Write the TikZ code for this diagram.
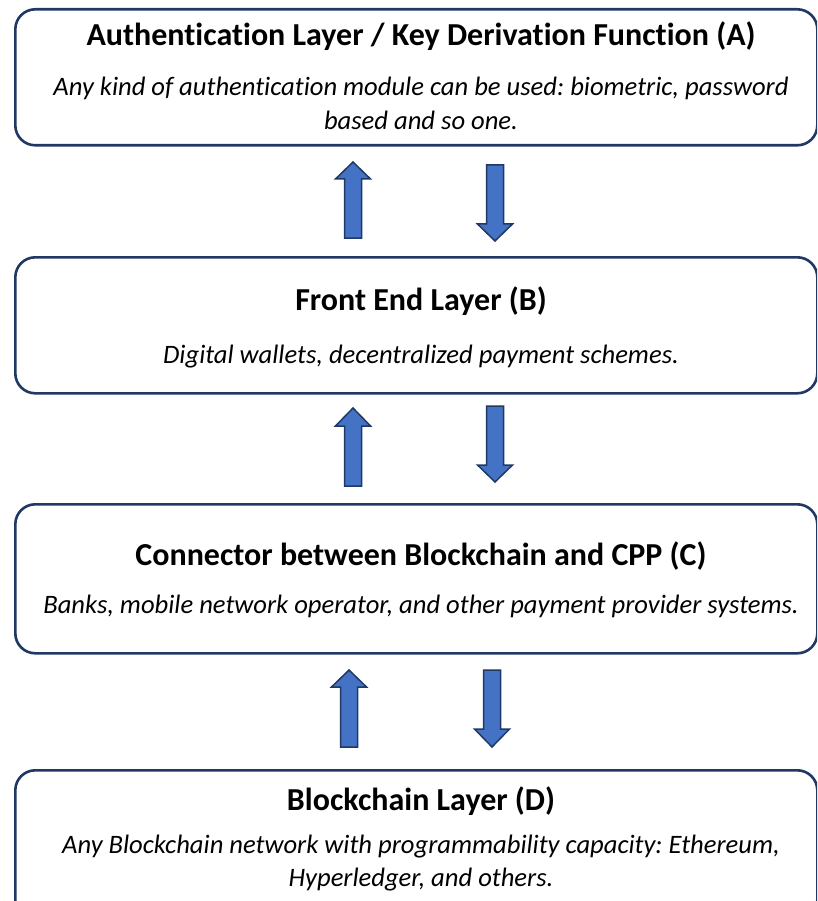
\documentclass[tikz,border=0pt]{standalone}
\usepackage{fontspec}
\setmainfont{Carlito}[Ligatures=NoCommon]
\frenchspacing
\definecolor{boxline}{HTML}{1F3864}
\definecolor{arrowfill}{HTML}{4472C4}
\definecolor{arrowline}{HTML}{203864}
% block arrow: centre x, tail y, head base y, tip y
\newcommand{\blockarrow}[4]{%
  \filldraw[fatarrow] ({#1-8.5},#2) -- ({#1-8.5},#3) -- ({#1-17.5},#3) -- (#1,#4)
    -- ({#1+17.5},#3) -- ({#1+8.5},#3) -- ({#1+8.5},#2) -- cycle;}
\begin{document}
\begin{tikzpicture}[x=1pt,y=-1pt,
  layerbox/.style={draw=boxline, line width=2.6pt, rounded corners=20pt, fill=white,
    anchor=north west, minimum width=802pt, inner sep=0pt},
  titletext/.style={anchor=base, inner sep=0pt, font=\fontsize{32}{36}\selectfont\bfseries},
  subtext/.style={anchor=base, inner sep=0pt, font=\fontsize{26.6}{30}\selectfont\itshape},
  fatarrow/.style={fill=arrowfill, draw=arrowline, line width=1.5pt, line join=miter}]
\useasboundingbox (0,0) rectangle (817,901);
\begin{scope}
\clip (0,0) rectangle (817,901);

% layer boxes
\node[layerbox, minimum height=136pt] (boxA) at (14,8) {};
\node[layerbox, minimum height=136pt] (boxB) at (14,256) {};
\node[layerbox, minimum height=149pt] (boxC) at (14,503) {};
\node[layerbox, minimum height=150pt] (boxD) at (14,769) {};

% texts
\node[titletext] (titleA) at (421,46) {Authentication Layer / Key Derivation Function (A)};
\node[subtext] (subA1) at (421,96) {Any kind of authentication module can be used: biometric, password};
\node[subtext] (subA2) at (421,130) {based and so one.};

\node[titletext] (titleB) at (421,310) {Front End Layer (B)};
\node[subtext] (subB) at (421,363) {Digital wallets, decentralized payment schemes.};

\node[titletext] (titleC) at (421,565) {Connector between Blockchain and CPP (C)};
\node[subtext] (subC) at (421,613) {Banks, mobile network operator, and other payment provider systems.};

\node[titletext] (titleD) at (421,810) {Blockchain Layer (D)};
\node[subtext] (subD1) at (421,853) {Any Blockchain network with programmability capacity: Ethereum,};
\node[subtext] (subD2) at (421,886) {Hyperledger, and others.};

% arrows between A and B
\blockarrow{353}{238}{179}{162}
\blockarrow{495}{165}{224}{241}
% arrows between B and C
\blockarrow{353}{486}{426}{408}
\blockarrow{495}{406}{465}{482}
% arrows between C and D
\blockarrow{349}{747}{687}{670}
\blockarrow{492}{670}{729}{747}
\end{scope}
\end{tikzpicture}
\end{document}
